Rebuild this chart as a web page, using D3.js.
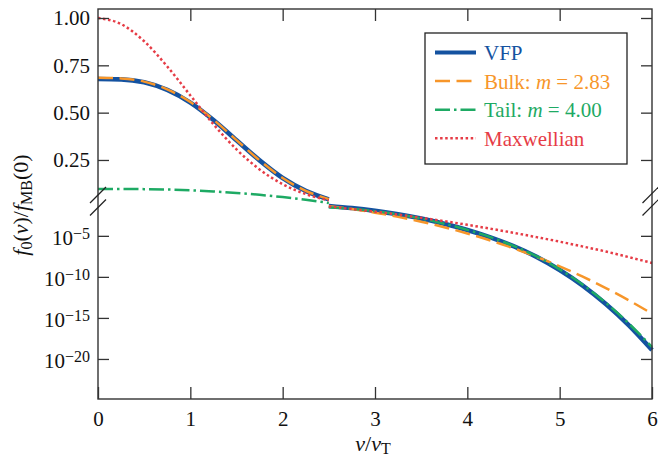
<!DOCTYPE html>
<html>
<head>
<meta charset="utf-8">
<script src="https://cdn.jsdelivr.net/npm/d3@7"></script>
<style>
  body { margin: 0; background: #fff; }
  svg { font-family: "Liberation Serif", "Times New Roman", serif; }
</style>
</head>
<body>
<svg id="chart" width="658" height="460"></svg>
<script>
// upper (linear) panel, v/vT from 0 to 2.5
const vTop = [0, 0.25, 0.5, 0.75, 1.0, 1.25, 1.5, 1.75, 2.0, 2.25, 2.5];
const vfpTop = [0.678, 0.676, 0.660, 0.620, 0.553, 0.461, 0.354, 0.248, 0.155, 0.087, 0.042];
const bulkTop = [0.684, 0.681, 0.664, 0.623, 0.556, 0.463, 0.355, 0.248, 0.155, 0.087, 0.043];
const tailTop = [0.097, 0.097, 0.096, 0.094, 0.090, 0.084, 0.076, 0.066, 0.054, 0.040, 0.023];
const maxwTop = [1.000, 0.968, 0.877, 0.744, 0.591, 0.439, 0.306, 0.200, 0.122, 0.070, 0.037];

// lower (log) panel, v/vT from 2.5 to 6
const vBot = [2.5, 2.75, 3.0, 3.25, 3.5, 3.75, 4.0, 4.25, 4.5, 4.75, 5.0, 5.25, 5.5, 5.75, 6.0];
const vfpBot = [4.37e-2, 2.40e-2, 1.10e-2, 4.17e-3, 1.26e-3, 2.95e-4, 5.13e-5, 6.46e-6, 5.50e-7, 2.75e-8, 6.92e-10, 8.71e-12, 4.90e-14, 1.23e-16, 1.23e-19];
const bulkBot = [4.27e-2, 1.82e-2, 6.61e-3, 2.04e-3, 5.25e-4, 1.12e-4, 1.95e-5, 2.75e-6, 3.09e-7, 2.82e-8, 1.95e-9, 1.05e-10, 4.37e-12, 1.38e-13, 3.31e-15];
const tailBot = [3.02e-2, 1.91e-2, 1.00e-2, 4.07e-3, 1.26e-3, 3.02e-4, 5.37e-5, 6.92e-6, 6.03e-7, 3.16e-8, 8.32e-10, 1.12e-11, 6.92e-14, 2.00e-16, 2.82e-19];
const maxwBot = [3.72e-2, 1.86e-2, 8.71e-3, 3.89e-3, 1.58e-3, 6.17e-4, 2.19e-4, 7.41e-5, 2.34e-5, 6.92e-6, 1.95e-6, 5.01e-7, 1.23e-7, 2.51e-8, 5.01e-9];

// ticks
const xTicks = [0, 1, 2, 3, 4, 5, 6];
const yTopTicks = [0.25, 0.5, 0.75, 1.0];
const yBotTicks = [1e-5, 1e-10, 1e-15, 1e-20];

const svg = d3.select("#chart");
const pLeft = 98, pRight = 652, pTop = 9, pBottom = 399;

const x = d3.scaleLinear().domain([0, 6]).range([pLeft, pRight]);
const yTop = d3.scaleLinear().domain([0, 1]).range([207.3, 18]);
const yBot = d3.scaleLog().domain([1e-25, 1e-1]).range([400, 203]);

const axisColor = "#333";

// series styles
const series = [
  { name: "VFP", top: vfpTop, bot: vfpBot, color: "#1452a0", width: 4.6, dash: null },
  { name: "Bulk", top: bulkTop, bot: bulkBot, color: "#f7962a", width: 2.5, dash: "15,6.5" },
  { name: "Tail", top: tailTop, bot: tailBot, color: "#1eaa64", width: 2.5, dash: "15,4,2.5,4" },
  { name: "Maxwellian", top: maxwTop, bot: maxwBot, color: "#e63c46", width: 2.5, dash: "2.5,2.6" }
];

const lineTop = d3.line().x(d => x(d[0])).y(d => yTop(d[1])).curve(d3.curveMonotoneX);
const lineBot = d3.line().x(d => x(d[0])).y(d => yBot(d[1])).curve(d3.curveMonotoneX);

series.forEach(s => {
  svg.append("path")
    .attr("d", lineTop(d3.zip(vTop, s.top)))
    .attr("fill", "none")
    .attr("stroke", s.color)
    .attr("stroke-width", s.width)
    .attr("stroke-dasharray", s.dash);
  svg.append("path")
    .attr("d", lineBot(d3.zip(vBot, s.bot)))
    .attr("fill", "none")
    .attr("stroke", s.color)
    .attr("stroke-width", s.width)
    .attr("stroke-dasharray", s.dash);
});

// frame
svg.append("rect")
  .attr("x", pLeft).attr("y", pTop)
  .attr("width", pRight - pLeft).attr("height", pBottom - pTop)
  .attr("fill", "none").attr("stroke", axisColor).attr("stroke-width", 1.4);

function styleAxis(g) {
  g.select(".domain").remove();
  g.style("color", axisColor);
  g.attr("font-family", null);
  g.selectAll(".tick line").attr("stroke-width", 1.3);
  g.selectAll("text").attr("font-size", 21).attr("fill", "#111");
}

// bottom / top x ticks
svg.append("g").attr("transform", `translate(0,${pBottom})`)
  .call(d3.axisBottom(x).tickValues(xTicks).tickFormat(d3.format("d")).tickSizeInner(-12).tickSizeOuter(0).tickPadding(12))
  .call(styleAxis);
svg.append("g").attr("transform", `translate(0,${pTop})`)
  .call(d3.axisTop(x).tickValues([1, 2, 3, 4, 5]).tickSizeInner(-12).tickSizeOuter(0).tickFormat(""))
  .call(styleAxis);

// left y ticks
svg.append("g").attr("transform", `translate(${pLeft},0)`)
  .call(d3.axisLeft(yTop).tickValues(yTopTicks).tickFormat(d3.format(".2f")).tickSizeInner(-11).tickSizeOuter(0).tickPadding(8))
  .call(styleAxis);

const gLog = svg.append("g").attr("transform", `translate(${pLeft},0)`)
  .call(d3.axisLeft(yBot).tickValues(yBotTicks).tickFormat("").tickSizeInner(-11).tickSizeOuter(0).tickPadding(8))
  .call(styleAxis);
gLog.selectAll(".tick text").each(function(d) {
  const t = d3.select(this).attr("dy", null).attr("y", 9);
  t.text(null);
  t.append("tspan").text("10");
  t.append("tspan").attr("font-size", 16).attr("dy", -6)
    .text("\u2212" + Math.round(-Math.log10(d)));
});

// right y ticks
svg.append("g").attr("transform", `translate(${pRight},0)`)
  .call(d3.axisRight(yTop).tickValues(yTopTicks).tickFormat("").tickSizeInner(-11).tickSizeOuter(0))
  .call(styleAxis);
svg.append("g").attr("transform", `translate(${pRight},0)`)
  .call(d3.axisRight(yBot).tickValues(yBotTicks).tickFormat("").tickSizeInner(-11).tickSizeOuter(0))
  .call(styleAxis);

// axis break marks
[pLeft, pRight - 1.5].forEach(xb => {
  [195, 207.5].forEach(yb => {
    svg.append("line")
      .attr("x1", xb - 8).attr("y1", yb + 8)
      .attr("x2", xb + 8).attr("y2", yb - 8)
      .attr("stroke", "#222").attr("stroke-width", 1.2);
  });
});

// axis labels
const yl = svg.append("text")
  .attr("transform", "translate(28,205) rotate(-90)")
  .attr("text-anchor", "middle")
  .attr("font-size", 22).attr("fill", "#111");
yl.append("tspan").attr("font-style", "italic").text("f");
yl.append("tspan").attr("font-size", 16).attr("dy", 4).text("0");
yl.append("tspan").attr("dy", -4).text("(");
yl.append("tspan").attr("font-style", "italic").text("v");
yl.append("tspan").text(")/");
yl.append("tspan").attr("font-style", "italic").text("f");
yl.append("tspan").attr("font-size", 16).attr("dy", 4).text("MB");
yl.append("tspan").attr("dy", -4).text("(0)");

const xl = svg.append("text")
  .attr("x", 373).attr("y", 451)
  .attr("text-anchor", "middle")
  .attr("font-size", 22).attr("fill", "#111");
xl.append("tspan").attr("font-style", "italic").text("v");
xl.append("tspan").text("/");
xl.append("tspan").attr("font-style", "italic").text("v");
xl.append("tspan").attr("font-size", 16).attr("dy", 3).text("T");

// legend
const legend = svg.append("g");
legend.append("rect")
  .attr("x", 425).attr("y", 33).attr("width", 202).attr("height", 131)
  .attr("fill", "#fff").attr("stroke", "#222").attr("stroke-width", 1.3);

const legendLabels = [
  ["VFP"],
  ["Bulk: ", "m", " = 2.83"],
  ["Tail: ", "m", " = 4.00"],
  ["Maxwellian"]
];

series.forEach((s, i) => {
  const ly = 52.5 + i * 28.6;
  legend.append("line")
    .attr("x1", 435).attr("x2", 476).attr("y1", ly).attr("y2", ly)
    .attr("stroke", s.color)
    .attr("stroke-width", i === 0 ? 4 : 2.5)
    .attr("stroke-dasharray", s.dash);
  const t = legend.append("text")
    .attr("x", 484).attr("y", ly + 7.5)
    .attr("font-size", 21).attr("fill", s.color);
  legendLabels[i].forEach((part, j) => {
    const ts = t.append("tspan").text(part);
    if (j === 1) ts.attr("font-style", "italic");
  });
});
</script>
</body>
</html>
